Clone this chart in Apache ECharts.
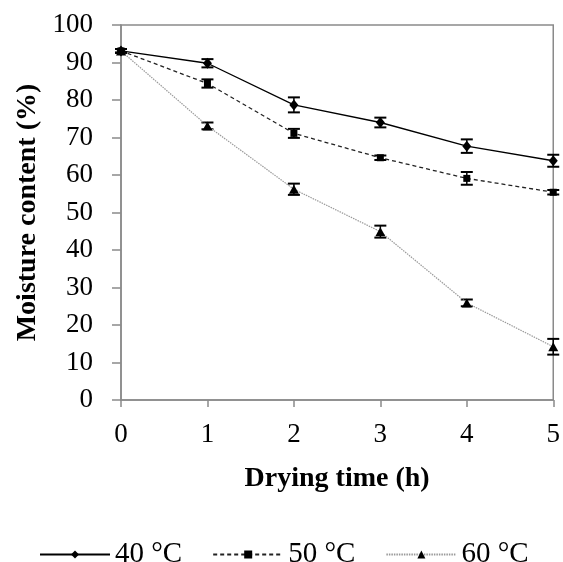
<!DOCTYPE html>
<html>
<head>
<meta charset="utf-8">
<script src="https://cdn.jsdelivr.net/npm/echarts@6/dist/echarts.min.js"></script>
<style>
html,body{margin:0;padding:0;background:#fff;}
#c{width:563px;height:562px;}
</style>
</head>
<body>
<div id="c"></div>
<script>
const hours = [0, 1, 2, 3, 4, 5];
const mc40 = [93.1, 89.8, 78.7, 74.0, 67.7, 63.8];
const err40 = [0.5, 1.1, 2.0, 1.3, 1.8, 1.6];
const mc50 = [93.1, 84.4, 71.1, 64.6, 59.1, 55.4];
const err50 = [0.5, 1.1, 1.2, 0.6, 1.7, 0.6];
const mc60 = [93.1, 73.1, 56.2, 44.9, 25.9, 14.2];
const err60 = [0.5, 0.9, 1.5, 1.6, 0.9, 2.1];
const seriesNames = ['40 °C', '50 °C', '60 °C'];
const xTitle = 'Drying time (h)';
const yTitle = 'Moisture content (%)';

const FONT = '"Liberation Serif", "Times New Roman", serif';
const AXIS_COLOR = '#8a8a8a';

function pairs(ys) { return hours.map((h, i) => [h, ys[i]]); }
function errData(ys, es) { return hours.map((h, i) => [h, ys[i], es[i]]); }

function errSeries(ys, es) {
  return {
    type: 'custom',
    coordinateSystem: 'cartesian2d',
    encode: { x: 0, y: 1 },
    silent: true,
    z: 5,
    data: errData(ys, es),
    renderItem: function (params, api) {
      const x = api.value(0), y = api.value(1), e = api.value(2);
      const hi = api.coord([x, y + e]);
      const lo = api.coord([x, y - e]);
      const w = 6;
      const st = { stroke: '#000', lineWidth: 1.5 };
      return {
        type: 'group',
        children: [
          { type: 'line', shape: { x1: hi[0], y1: hi[1], x2: lo[0], y2: lo[1] }, style: st },
          { type: 'line', shape: { x1: hi[0] - w, y1: hi[1], x2: hi[0] + w, y2: hi[1] }, style: { stroke: '#000', lineWidth: 2 } },
          { type: 'line', shape: { x1: lo[0] - w, y1: lo[1], x2: lo[0] + w, y2: lo[1] }, style: { stroke: '#000', lineWidth: 2 } }
        ]
      };
    }
  };
}

const chart = echarts.init(document.getElementById('c'), null, { renderer: 'canvas' });
chart.setOption({
  animation: false,
  backgroundColor: '#fff',
  grid: { left: 121, right: 7, top: 25, bottom: 162, show: true, borderColor: AXIS_COLOR, borderWidth: 1.5 },
  legend: {
    data: seriesNames,
    left: 34,
    top: 535,
    itemWidth: 70,
    itemHeight: 10,
    itemGap: 30,
    textStyle: { fontFamily: FONT, fontSize: 29, color: '#000' }
  },
  xAxis: {
    type: 'value', min: 0, max: 5, interval: 1,
    name: xTitle, nameLocation: 'middle', nameGap: 65,
    nameTextStyle: { fontFamily: FONT, fontSize: 28, fontWeight: 'bold', color: '#000' },
    axisLine: { show: true, lineStyle: { color: AXIS_COLOR, width: 1.5 } },
    axisTick: { show: true, length: 7, lineStyle: { color: AXIS_COLOR, width: 1.5 } },
    axisLabel: { fontFamily: FONT, fontSize: 27, color: '#000', margin: 21 },
    splitLine: { show: false }
  },
  yAxis: {
    type: 'value', min: 0, max: 100, interval: 10,
    name: yTitle, nameLocation: 'middle', nameGap: 79,
    nameTextStyle: { fontFamily: FONT, fontSize: 28, fontWeight: 'bold', color: '#000' },
    axisLine: { show: true, lineStyle: { color: AXIS_COLOR, width: 1.5 } },
    axisTick: { show: true, length: 9, lineStyle: { color: AXIS_COLOR, width: 1.5 } },
    axisLabel: { fontFamily: FONT, fontSize: 27, color: '#000', margin: 28 },
    splitLine: { show: false }
  },
  series: [
    {
      name: seriesNames[0], type: 'line', data: pairs(mc40),
      symbol: 'diamond', symbolSize: [9, 11], z: 6,
      itemStyle: { color: '#000' },
      lineStyle: { color: '#000', width: 1.3, type: 'solid' }
    },
    {
      name: seriesNames[1], type: 'line', data: pairs(mc50),
      symbol: 'rect', symbolSize: 7, z: 6,
      itemStyle: { color: '#000' },
      lineStyle: { color: '#222', width: 1.3, type: [4, 3] }
    },
    {
      name: seriesNames[2], type: 'line', data: pairs(mc60),
      symbol: 'triangle', symbolSize: [10, 9], z: 6,
      itemStyle: { color: '#000' },
      lineStyle: { color: '#9a9a9a', width: 1.2, type: [1.5, 1] }
    },
    errSeries(mc40, err40),
    errSeries(mc50, err50),
    errSeries(mc60, err60)
  ]
});
</script>
</body>
</html>
